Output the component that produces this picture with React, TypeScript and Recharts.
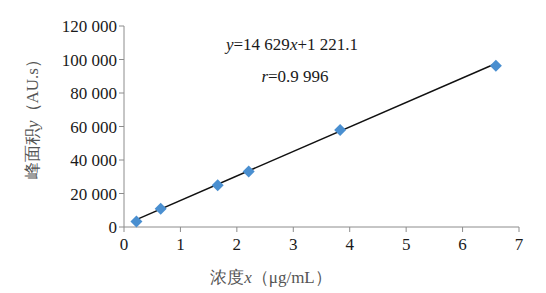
import { ComposedChart, Line, Scatter, XAxis, YAxis } from 'recharts';

const concentration = [0.22, 0.65, 1.66, 2.21, 3.83, 6.59];
const peakArea = [3300, 10900, 25000, 33200, 57900, 96300];
const xTicks = [0, 1, 2, 3, 4, 5, 6, 7];
const yTicks = [0, 20000, 40000, 60000, 80000, 100000, 120000];
const slope = 14629;
const intercept = 1221.1;
const fitRange = [0.22, 6.59];

const points = concentration.map((x, i) => ({ x, y: peakArea[i] }));
const fitLine = fitRange.map((x) => ({ x, fit: slope * x + intercept }));

const serif = 'Liberation Serif';
const axisGray = '#8c8c8c';

const fmt = (v: number) => String(v).replace(/\B(?=(\d{3})+(?!\d))/g, ' ');

function Diamond(props: any) {
    const { cx, cy } = props;
    const r = 6;
    return (
        <polygon
            points={`${cx},${cy - r} ${cx + r},${cy} ${cx},${cy + r} ${cx - r},${cy}`}
            fill="#4a8fd0"
        />
    );
}

export default function App() {
    return (
        <div style={{ position: 'absolute', left: 0, top: 0, width: 546, height: 293, background: '#fff' }}>
            <ComposedChart width={546} height={293} margin={{ top: 26, right: 27, bottom: 0, left: 0 }}>
                <XAxis
                    type="number"
                    dataKey="x"
                    domain={[0, 7]}
                    ticks={xTicks}
                    allowDataOverflow
                    height={66}
                    stroke={axisGray}
                    tickSize={5}
                    tickMargin={6}
                    tick={{ fontSize: 17, fill: '#1a1a1a', fontFamily: serif }}
                />
                <YAxis
                    type="number"
                    domain={[0, 120000]}
                    ticks={yTicks}
                    width={124}
                    stroke={axisGray}
                    tickSize={5}
                    tickMargin={2}
                    tickFormatter={fmt}
                    tick={{ fontSize: 17, fill: '#1a1a1a', fontFamily: serif }}
                />
                <Scatter data={points} dataKey="y" shape={<Diamond />} isAnimationActive={false} />
                <Line
                    data={fitLine}
                    dataKey="fit"
                    stroke="#111"
                    strokeWidth={1.5}
                    dot={false}
                    isAnimationActive={false}
                />
            </ComposedChart>
            <svg
                width={546}
                height={293}
                style={{ position: 'absolute', left: 0, top: 0, pointerEvents: 'none' }}
            >
                <text x={292} y={50} textAnchor="middle" fill="#1a1a1a" fontFamily={serif} fontSize={17}>
                    <tspan fontStyle="italic">y</tspan>=14 629<tspan fontStyle="italic">x</tspan>+1 221.1
                </text>
                <text x={295} y={82} textAnchor="middle" fill="#1a1a1a" fontFamily={serif} fontSize={17}>
                    <tspan fontStyle="italic">r</tspan>=0.9 996
                </text>
                <text x={271} y={283} textAnchor="middle" fill="#555" fontFamily={serif} fontSize={17}>
                    浓度<tspan fontStyle="italic">x</tspan>（μg/mL）
                </text>
                <text
                    x={38}
                    y={115}
                    textAnchor="middle"
                    fill="#555"
                    fontFamily={serif}
                    fontSize={17}
                    transform="rotate(-90 38 115)"
                >
                    峰面积<tspan fontStyle="italic">y</tspan>（AU.s）
                </text>
            </svg>
        </div>
    );
}
